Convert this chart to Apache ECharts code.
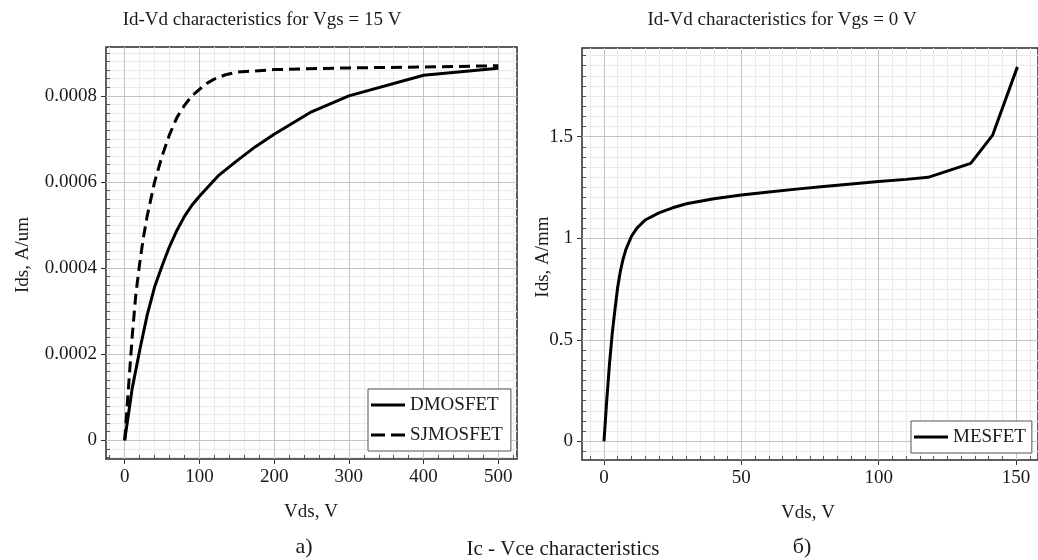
<!DOCTYPE html>
<html>
<head>
<meta charset="utf-8">
<script src="https://cdn.jsdelivr.net/npm/echarts@6/dist/echarts.min.js"></script>
<style>
  html, body { margin: 0; padding: 0; background: #ffffff; }
  #chart { width: 1038px; height: 560px; }
</style>
</head>
<body>
<div id="chart"></div>
<script>
// Panel a): Id-Vd at Vgs = 15 V
const dmosVds = [0, 5, 10, 20, 30, 40, 50, 60, 70, 80, 90, 100, 125, 150, 175, 200, 250, 300, 400, 500];
const dmosIds = [0, 0.00006, 0.00012, 0.000208, 0.00029, 0.000356, 0.000405, 0.00045, 0.000488, 0.00052, 0.000546,
                 0.000567, 0.000614, 0.000649, 0.000682, 0.000711, 0.000763, 0.0008, 0.000848, 0.000864];
const sjVds = [0, 5, 10, 15, 20, 25, 30, 40, 50, 60, 70, 80, 90, 100, 110, 120, 135, 150, 200, 300, 400, 500];
const sjIds = [0, 0.00012, 0.00024, 0.00034, 0.00041, 0.00047, 0.00052, 0.0006, 0.00066, 0.00071, 0.00075,
               0.000778, 0.0008, 0.000815, 0.000829, 0.000839, 0.000849, 0.000855, 0.000861, 0.000865, 0.000867, 0.00087];

// Panel б): Id-Vd at Vgs = 0 V
const mesVds = [0, 1, 2, 3, 4, 5, 6, 7, 8, 10, 12, 15, 20, 25, 30, 40, 50, 60, 70, 80, 90, 100, 110, 118, 133.5, 141.5, 150.5];
const mesIds = [0, 0.2, 0.38, 0.53, 0.65, 0.76, 0.84, 0.9, 0.945, 1.01, 1.05, 1.09, 1.125, 1.15, 1.17, 1.195,
                1.213, 1.228, 1.242, 1.255, 1.267, 1.279, 1.29, 1.30, 1.369, 1.508, 1.844];

// Axis ticks
const aXTicks = [0, 100, 200, 300, 400, 500];
const aYTicks = [0, 0.0002, 0.0004, 0.0006, 0.0008];
const bXTicks = [0, 50, 100, 150];
const bYTicks = [0, 0.5, 1, 1.5];

const FONT = "'Liberation Serif', 'Times New Roman', 'DejaVu Serif', serif";
const INK = '#1a1a1a';

function zip(xs, ys) { return xs.map((x, i) => [x, ys[i]]); }

// minor grid positions between the major ticks
function minorTicks(lo, hi, step, majorStep) {
  const out = [];
  const n = Math.round((hi - lo) / step);
  for (let i = 0; i <= n; i++) {
    const v = +(lo + i * step).toFixed(9);
    const r = v / majorStep;
    if (Math.abs(r - Math.round(r)) > 1e-6) out.push(v);
  }
  return out;
}

function majorAxis(type, grid, min, max, ticks) {
  return {
    type: 'value', gridIndex: grid, min: min, max: max,
    position: type === 'x' ? 'bottom' : 'left',
    axisLine: { show: false, onZero: false },
    axisTick: { show: true, inside: false, length: 5, customValues: ticks,
                lineStyle: { color: '#333', width: 1 } },
    axisLabel: { show: true, customValues: ticks, fontFamily: FONT, fontSize: 19, color: INK, margin: 9 },
    splitLine: { show: true, lineStyle: { color: '#c4c4c4', width: 1 } },
    z: 3
  };
}

function minorAxis(type, grid, min, max, ticks) {
  return {
    type: 'value', gridIndex: grid, min: min, max: max,
    position: type === 'x' ? 'bottom' : 'left',
    axisLine: { show: false, onZero: false },
    axisTick: { show: true, inside: true, length: 4, customValues: ticks,
                lineStyle: { color: '#555', width: 1 } },
    axisLabel: { show: false },
    splitLine: { show: true, lineStyle: { color: '#ebebeb', width: 1 } },
    z: 2
  };
}

const aX = [-25, 525], aY = [-0.0000435, 0.0009135];
const bX = [-8, 158], bY = [-0.092, 1.937];

const solidLine = { color: '#000', width: 3 };
const dashedLine = { color: '#000', width: 3, type: [11, 6] };

// legend keys drawn as filled strokes 34 x 3
const solidKey = 'path://M0,0H34V3H0Z';
const dashedKey = 'path://M0,0H14V3H0Z M20,0H34V3H20Z';

const legendBase = {
  orient: 'vertical', itemWidth: 34, itemHeight: 3, itemGap: 10,
  backgroundColor: '#ffffff', borderColor: '#555', borderWidth: 1, borderRadius: 0,
  textStyle: { fontFamily: FONT, fontSize: 19, color: INK, lineHeight: 20 },
  itemStyle: { color: '#000', borderWidth: 0 },
  lineStyle: { width: 0, opacity: 0 },
  selectedMode: false
};

const option = {
  backgroundColor: '#ffffff',
  animation: false,
  grid: [
    { left: 106, top: 47, width: 411, height: 412, show: true, borderColor: '#2a2a2a', borderWidth: 1.5,
      backgroundColor: 'transparent', containLabel: false },
    { left: 582, top: 48, width: 458, height: 412, show: true, borderColor: '#2a2a2a', borderWidth: 1.5,
      backgroundColor: 'transparent', containLabel: false }
  ],
  xAxis: [
    majorAxis('x', 0, aX[0], aX[1], aXTicks),
    minorAxis('x', 0, aX[0], aX[1], minorTicks(-20, 520, 20, 100)),
    majorAxis('x', 1, bX[0], bX[1], bXTicks),
    minorAxis('x', 1, bX[0], bX[1], minorTicks(-5, 155, 5, 50))
  ],
  yAxis: [
    majorAxis('y', 0, aY[0], aY[1], aYTicks),
    minorAxis('y', 0, aY[0], aY[1], minorTicks(-0.00004, 0.0009, 0.00002, 0.0002)),
    majorAxis('y', 1, bY[0], bY[1], bYTicks),
    minorAxis('y', 1, bY[0], bY[1], minorTicks(-0.05, 1.9, 0.05, 0.5))
  ],
  legend: [
    Object.assign({}, legendBase, {
      data: [{ name: 'DMOSFET', icon: solidKey }, { name: 'SJMOSFET', icon: dashedKey }],
      left: 368, top: 389, padding: [6, 8, 6, 3]
    }),
    Object.assign({}, legendBase, {
      data: [{ name: 'MESFET', icon: solidKey }],
      left: 911, top: 421, padding: [6, 6, 6, 3]
    })
  ],
  series: [
    { name: 'DMOSFET', type: 'line', xAxisIndex: 0, yAxisIndex: 0, data: zip(dmosVds, dmosIds),
      symbol: 'none', showSymbol: false, lineStyle: solidLine, itemStyle: { color: '#000' }, z: 5 },
    { name: 'SJMOSFET', type: 'line', xAxisIndex: 0, yAxisIndex: 0, data: zip(sjVds, sjIds),
      symbol: 'none', showSymbol: false, lineStyle: dashedLine, itemStyle: { color: '#000' }, z: 5 },
    { name: 'MESFET', type: 'line', xAxisIndex: 2, yAxisIndex: 2, data: zip(mesVds, mesIds),
      symbol: 'none', showSymbol: false, lineStyle: solidLine, itemStyle: { color: '#000' }, z: 5 }
  ],
  graphic: [
    { type: 'text', x: 262, y: 20, style: { text: 'Id-Vd characteristics for Vgs = 15 V', fontFamily: FONT,
      fontSize: 19, fill: INK, align: 'center', verticalAlign: 'middle' } },
    { type: 'text', x: 782, y: 20, style: { text: 'Id-Vd characteristics for Vgs = 0 V', fontFamily: FONT,
      fontSize: 19, fill: INK, align: 'center', verticalAlign: 'middle' } },
    { type: 'text', x: 23, y: 255, rotation: Math.PI / 2, style: { text: 'Ids, A/um', fontFamily: FONT,
      fontSize: 19, fill: INK, align: 'center', verticalAlign: 'middle' } },
    { type: 'text', x: 543, y: 257, rotation: Math.PI / 2, style: { text: 'Ids, A/mm', fontFamily: FONT,
      fontSize: 19, fill: INK, align: 'center', verticalAlign: 'middle' } },
    { type: 'text', x: 311, y: 512, style: { text: 'Vds, V', fontFamily: FONT,
      fontSize: 19, fill: INK, align: 'center', verticalAlign: 'middle' } },
    { type: 'text', x: 808, y: 513, style: { text: 'Vds, V', fontFamily: FONT,
      fontSize: 19, fill: INK, align: 'center', verticalAlign: 'middle' } },
    { type: 'text', x: 304, y: 547, style: { text: 'a)', fontFamily: FONT,
      fontSize: 22, fill: INK, align: 'center', verticalAlign: 'middle' } },
    { type: 'text', x: 563, y: 549, style: { text: 'Ic - Vce characteristics', fontFamily: FONT,
      fontSize: 21, fill: INK, align: 'center', verticalAlign: 'middle' } },
    { type: 'text', x: 802, y: 547, style: { text: 'б)', fontFamily: FONT,
      fontSize: 22, fill: INK, align: 'center', verticalAlign: 'middle' } }
  ]
};

const chart = echarts.init(document.getElementById('chart'), null, { renderer: 'canvas' });
chart.setOption(option);
</script>
</body>
</html>
